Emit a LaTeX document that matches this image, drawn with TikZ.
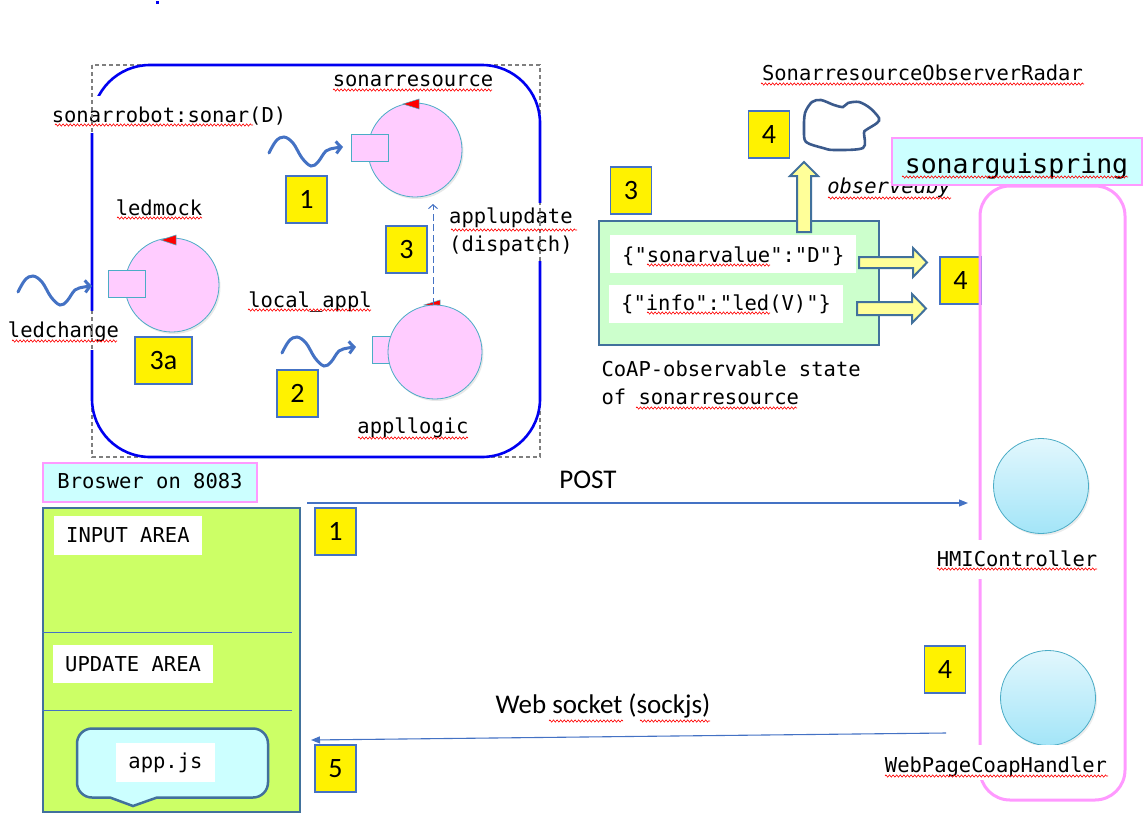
\documentclass[tikz,border=0pt]{standalone}
\usepackage{fontspec}
\setmainfont{Carlito}
\newfontfamily\codefont{DejaVu Sans Mono}[Ligatures=TeXOff]
\usetikzlibrary{arrows.meta,decorations.pathmorphing,shadows}

\definecolor{pinkfill}{HTML}{FFCCFF}
\definecolor{tealedge}{HTML}{4BACC6}
\definecolor{wavebl}{HTML}{4472C4}
\definecolor{frameblue}{HTML}{0000F0}
\definecolor{framegray}{HTML}{7F7F7F}
\definecolor{darkedge}{HTML}{41719C}
\definecolor{mintfill}{HTML}{CCFFCC}
\definecolor{paleyel}{HTML}{FFFF99}
\definecolor{cyanfill}{HTML}{CCFFFF}
\definecolor{pinkedge}{HTML}{FF99FF}
\definecolor{limefill}{HTML}{CCFF66}
\definecolor{cloudedge}{HTML}{3B5A8C}
\definecolor{cyantop}{HTML}{E2F7FD}
\definecolor{cyanbot}{HTML}{A3E5F8}

% wavy event arrow starting at (#1,#2)
\newcommand\wiggle[2]{\draw[wave] plot[smooth, tension=0.6] coordinates {(#1,#2) (#1+7,#2-12) (#1+15,#2-16) (#1+24,#2-10) (#1+33,#2+5) (#1+42,#2+13) (#1+49,#2+9) (#1+57,#2-2) (#1+66,#2-5) (#1+74,#2-6)};}
% red spelling underline from x=#1 to x=#2 at height #3
\newcommand\spellmark[3]{\draw[spell] (#1,#3) -- (#2,#3);}

\begin{document}
\begin{tikzpicture}[x=1pt,y=-1pt,
  code/.style={font=\codefont\fontsize{20.5}{28}\selectfont},
  actor/.style={circle, draw=tealedge, line width=0.8pt, fill=pinkfill, minimum size=94pt, inner sep=0pt,
    drop shadow={opacity=0.18, shadow xshift=1.5pt, shadow yshift=-2pt}},
  port/.style={rectangle, draw=tealedge, line width=0.8pt, fill=pinkfill, minimum width=37pt, minimum height=27pt, inner sep=0pt},
  handler/.style={circle, draw=tealedge, line width=0.8pt, top color=cyantop, bottom color=cyanbot, minimum size=95pt, inner sep=0pt,
    drop shadow={opacity=0.15, shadow xshift=1.5pt, shadow yshift=-2pt}},
  redtip/.style={fill=red, draw=tealedge, line width=0.5pt},
  numbox/.style={draw=wavebl, line width=1.6pt, fill=yellow, minimum width=41pt, minimum height=47pt, inner sep=0pt,
    font=\fontsize{28}{30}\selectfont},
  wave/.style={wavebl, line width=3pt, line cap=round, -{Straight Barb[length=5pt,width=12pt]}},
  masklabel/.style={code, fill=white, inner ysep=0pt, inner xsep=3pt},
  whitebox/.style={code, fill=white, inner ysep=0pt, inner xsep=12pt},
  cyanlabel/.style={code, fill=cyanfill, draw=pinkedge, line width=2pt, inner ysep=0pt, inner xsep=0pt},
  blockarrow/.style={fill=paleyel, draw=darkedge, line width=2pt, line join=miter},
  framedash/.style={framegray, line width=1.2pt, dash pattern=on 4pt off 3pt},
  spell/.style={red, line width=0.6pt, decorate, decoration={zigzag, segment length=3.6pt, amplitude=1.1pt}},
  flow/.style={wavebl, line width=1.1pt, -{Triangle[length=9pt,width=7pt]}},
  dispatch/.style={wavebl, line width=1pt, dash pattern=on 7pt off 3.5pt, -{Straight Barb[length=4pt,width=9pt]}},
  sep/.style={wavebl, line width=0.8pt}
]
\useasboundingbox (0,0) rectangle (1145,822);
\fill[frameblue] (155.5,0.5) rectangle (158.5,4);

% ---------- sonarrobot context ----------
\draw[framedash] (92,65) rectangle (540,457);
\draw[frameblue, line width=2.6pt, rounded corners=58pt] (92,65) rectangle (540,457);

% sonarresource actor
\node[actor] (sres) at (415,150) {};
\draw[redtip] (403,104) -- (419,99) -- (419,109) -- cycle;
\node[port] (sresport) at (369.5,147.5) {};
\wiggle{269}{153}

% ledmock actor
\node[actor] (led) at (172,285) {};
\draw[redtip] (161,240) -- (176,235) -- (176,245) -- cycle;
\node[port] (ledport) at (126.5,284) {};
\wiggle{18}{292}

% appllogic actor
\draw[redtip] (424,305) -- (440,300) -- (440,307) -- cycle;
\node[port] (logport) at (390.5,350) {};
\node[actor] (logic) at (435,352) {};
\wiggle{282}{353}

% applupdate dispatch
\coordinate (updtop) at (433,204);
\draw[dispatch] (logic.north -| updtop) -- (updtop);

\node[code, anchor=base] (sreslbl) at (413,86) {sonarresource};
\node[code, anchor=base] (ledlbl) at (159,215) {ledmock};
\node[code, anchor=base] (loclbl) at (310,307) {local\_appl};
\node[code, anchor=base] (logiclbl) at (413,433) {appllogic};
\node[masklabel, text height=26pt, text depth=11pt, anchor=base] (robot) at (169,122) {sonarrobot:sonar(D)};
\node[masklabel, anchor=north west, align=left, inner ysep=5pt] (upd) at (446,203) {applupdate\\(dispatch)};
\node[masklabel, text height=26pt, text depth=13pt, minimum width=127pt, anchor=base] (ledchg) at (63.5,337) {ledchange};

% the dashed outline stays visible behind the labels
\begin{scope}
  \clip (robot.south west) rectangle (robot.north east)
        (upd.south west) rectangle (upd.north east)
        (ledchg.south west) rectangle (ledchg.north east);
  \draw[framedash] (92,65) rectangle (540,457);
\end{scope}

\node[numbox] (n1a) at (306.5,199.5) {1};
\node[numbox] (n3a) at (406.5,249.5) {3};
\node[numbox, minimum width=57pt] (n3b) at (163.5,360.5) {3a};
\node[numbox] (n2) at (297.5,393.5) {2};

% ---------- observable state ----------
\node[numbox] (n3c) at (631,190.5) {3};
\node[numbox] (n4a) at (769,134.5) {4};
\node[numbox] (n4b) at (960.5,280.5) {4};

\node[draw=darkedge, fill=mintfill, line width=2.5pt, minimum width=280pt, minimum height=124pt, inner sep=0pt] (state) at (739,283) {};
\node[whitebox, anchor=base west, text height=27pt, text depth=11pt] (jsonA) at (610,262) {\{"sonarvalue":"D"\}};
\node[whitebox, anchor=base west, text height=25pt, text depth=13pt] (jsonB) at (609,310) {\{"info":"led(V)"\}};

\draw[blockarrow] (797,232) -- (797,176) -- (790,176) -- (804,162) -- (818,176) -- (811,176) -- (811,232) -- cycle;
\draw[blockarrow] (859,257) -- (913,257) -- (913,248) -- (927,262.5) -- (913,277) -- (913,268) -- (859,268) -- cycle;
\draw[blockarrow] (857,302) -- (912,302) -- (912,294) -- (926,308.5) -- (912,323) -- (912,315) -- (857,315) -- cycle;

\node[code, anchor=base west] (coap1) at (598,376) {CoAP-observable state};
\node[code, anchor=base west] (coap2) at (598,404) {of sonarresource};

\node[code, anchor=base] (radarlbl) at (922.5,80) {SonarresourceObserverRadar};
\draw[cloudedge, line width=2.6pt] plot[smooth cycle, tension=0.5] coordinates {
  (812,102) (821,100) (834,105) (843,107) (848,103) (859,102) (870,108) (879,118)
  (877,123) (866,130) (864,133) (863,148) (834,150) (823,148) (806,142) (804,130) (805,113)};
\node[code, font=\codefont\itshape\fontsize{20.5}{28}\selectfont, anchor=base] (obsby) at (889,193) {observedby};

% ---------- sonarguispring ----------
\draw[pinkedge, line width=3pt, rounded corners=30pt] (980,186) rectangle (1125,800);
\node[cyanlabel, font=\codefont\fontsize{26.5}{30}\selectfont, minimum width=250pt, text height=35pt, text depth=12pt, anchor=base] (gui) at (1016.5,173) {sonarguispring};

\node[handler] (hmi) at (1041,486) {};
\node[masklabel, text height=26pt, text depth=13pt, anchor=base] (hmilbl) at (1017,566) {HMIController};
\node[handler] (wph) at (1048,698) {};
\node[masklabel, text height=27pt, text depth=8pt, anchor=base] (wphlbl) at (996,772) {WebPageCoapHandler};
\node[numbox] (n4c) at (945,669.5) {4};

% ---------- browser ----------
\node[cyanlabel, minimum width=214pt, text height=25pt, text depth=14pt, anchor=base] (brlbl) at (150,488) {Broswer on 8083};
\node[draw=darkedge, fill=limefill, line width=2.5pt, minimum width=257pt, minimum height=304pt, inner sep=0pt] (browser) at (171.5,660) {};
\draw[sep] (browser.west |- 0,632) -- (292,632);
\draw[sep] (browser.west |- 0,710) -- (292,710);
\node[whitebox, anchor=base west, text height=26pt, text depth=13pt] (inarea) at (54,542) {INPUT AREA};
\node[whitebox, anchor=base west, text height=26pt, text depth=12pt] (uparea) at (53,671) {UPDATE AREA};
% app.js callout: rounded body, then a pointed tail under it
\node[draw=darkedge, line width=2.5pt, fill=cyanfill, rounded corners=15pt, minimum width=191pt, minimum height=69pt, inner sep=0pt] (callout) at (172.5,763) {};
\fill[cyanfill] (110.5,796.2) -- (156.5,796.2) -- (157,798) -- (133,806) -- (110,798) -- cycle;
\draw[darkedge, line width=2.5pt, line join=miter] (110,797.5) -- (133,806) -- (157,797.5);
\node[whitebox, inner xsep=12.5pt, text height=25pt, text depth=14pt, anchor=base] (appjs) at (165.5,768) {app.js};

% ---------- HTTP / websocket flows ----------
\coordinate (postsrc) at (307,503);
\coordinate (posttip) at (968,503);
\draw[flow] (postsrc) -- (posttip);
\node[font=\fontsize{27}{30}\selectfont, anchor=base] (postlbl) at (588,488) {POST};
\coordinate (wssrc) at (946,733);
\coordinate (wstip) at (311,740);
\draw[flow] (wssrc) -- (wstip);
\node[font=\fontsize{27}{30}\selectfont, anchor=base] (wslbl) at (603,713) {Web socket (sockjs)};
\node[numbox] (n1b) at (335.5,531.5) {1};
\node[numbox] (n5) at (335.5,768.5) {5};

% ---------- spelling underlines ----------
\spellmark{55}{253}{125}
\spellmark{117}{202}{218}
\spellmark{333}{492}{90}
\spellmark{451}{577}{230}
\spellmark{248}{371}{310}
\spellmark{12}{117}{341}
\spellmark{358}{468}{438}
\spellmark{761}{1084}{84}
\spellmark{828}{951}{198}
\spellmark{902}{1128}{177}
\spellmark{647}{770}{265}
\spellmark{647}{770}{313}
\spellmark{636}{797}{408}
\spellmark{937}{1097}{569}
\spellmark{885}{1108}{776}
\spellmark{549}{623}{721}
\spellmark{640}{710}{721}
\end{tikzpicture}
\end{document}
